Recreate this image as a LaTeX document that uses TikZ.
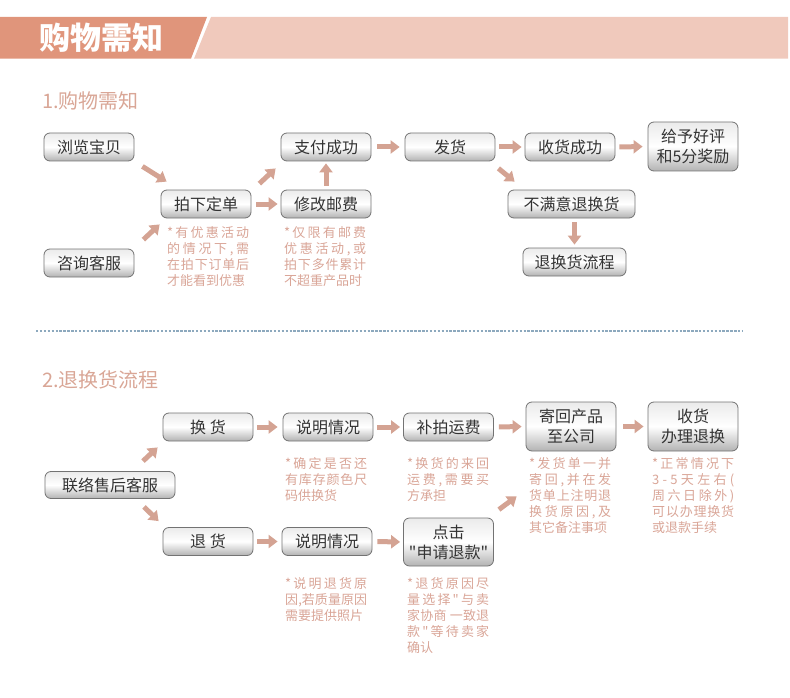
\documentclass[tikz,border=0pt]{standalone}
\usepackage{fontspec}
\setmainfont{Noto Sans CJK SC}
\newfontfamily\plainfont{Noto Sans CJK SC}
\usetikzlibrary{arrows.meta,calc}
\definecolor{hdark}{HTML}{E0957B}
\definecolor{hlight}{HTML}{F0C9BC}
\definecolor{arrowc}{HTML}{D4A393}
\definecolor{notec}{HTML}{D9A597}
\definecolor{titlec}{HTML}{D9A696}
\definecolor{dashc}{HTML}{8DA9BE}
\newcommand\sq{{\plainfont\symbol{34}}}
\newlength\notew
\setlength\notew{82pt}
\def\spreadchars#1#2\endspread{#1\ifx\relax#2\relax\else\hfil\spreadchars#2\endspread\fi}
\newcommand\sline[1]{\makebox[\notew][s]{\spreadchars#1\endspread}}
\tikzset{
  box/.style={draw=black!55, line width=0.8pt, rounded corners=6pt,
    top color=black!8, bottom color=black!30, middle color=white,
    minimum width=90pt, minimum height=28pt, inner sep=0pt,
    font=\fontsize{16}{20}\selectfont, text=black!80, align=center},
  tallbox/.style={box, minimum height=49pt},
  barrow/.style={line width=5pt, draw=arrowc, -{Triangle[length=9pt,width=13pt]}},
  note/.style={inner sep=0pt, text=notec, font=\fontsize{13}{16.2}\selectfont, anchor=base west},
  sectitle/.style={inner sep=0pt, text=titlec, font=\fontsize{20}{24}\selectfont, anchor=base west},
}
\begin{document}
\begin{tikzpicture}[x=1pt,y=-1pt]
\useasboundingbox (0,0) rectangle (790,698);
% header
\fill[hdark] (0,17) -- (207,17) -- (191,58.7) -- (0,58.7) -- cycle;
\fill[hlight] (211,17) -- (788,17) -- (788,58.7) -- (194,58.7) -- cycle;
\node[inner sep=0pt, anchor=base west, text=white, font=\fontsize{31}{34}\selectfont\bfseries] (head) at (39,50) {购物需知};
% section 1
\node[sectitle] (t1) at (42,109) {1.购物需知};
\node[box] (a1) at (89,147) {浏览宝贝};
\node[box] (a2) at (89,263) {咨询客服};
\node[box] (a3) at (206,204) {拍下定单};
\node[box] (a4) at (326,147) {支付成功};
\node[box] (a5) at (326,204) {修改邮费};
\node[box] (a6) at (450,147) {发货};
\node[box] (a7) at (570,147) {收货成功};
\node[tallbox] (a8) at (693,146.5) {给予好评\\和5分奖励};
\node[box, minimum width=127pt] (a9) at (571.5,204) {不满意退换货};
\node[box, minimum width=103pt] (a10) at (574.5,262) {退换货流程};
\node[note] (n1) at (167,237) {\vtop{\hbox{\sline{*有优惠活动}}\hbox{\sline{的情况下,需}}\hbox{\sline{在拍下订单后}}\hbox{才能看到优惠}}};
\node[note] (n2) at (284,237) {\vtop{\hbox{\sline{*仅限有邮费}}\hbox{\sline{优惠活动,或}}\hbox{\sline{拍下多件累计}}\hbox{不超重产品时}}};
\draw[barrow] ([shift={(8,5)}]a1.south east) -- ([shift={(6,-8)}]a3.north west);
\draw[barrow] ([shift={(9,-9)}]a2.north east) -- ([shift={(-1,6)}]a3.south west);
\draw[barrow] ([shift={(8,-6)}]a3.north east) -- ([shift={(-5,7)}]a4.south west);
\draw[barrow, shorten <=4pt, shorten >=2pt] (a5.north) -- (a4.south);
\draw[barrow, shorten <=5pt, shorten >=3pt] (a3.east) -- (a5.west);
\draw[barrow, shorten <=6pt, shorten >=5pt] (a4.east) -- (a6.west);
\draw[barrow, shorten <=4pt, shorten >=3pt] (a6.east) -- (a7.west);
\draw[barrow, shorten <=4pt, shorten >=5pt] (a7.east) -- (a8.west);
\draw[barrow] ([shift={(3,7)}]a6.south east) -- ([shift={(7,-8)}]a9.north west);
\draw[barrow, shorten <=4pt, shorten >=3pt] (a9.south -| a10.north) -- (a10.north);
% divider
\draw[dashc, line width=1.3pt, dash pattern=on 2.4pt off 1.5pt] (36,331) -- (743,331);
% section 2
\node[sectitle] (t2) at (42,387.5) {2.退换货流程};
\node[box, minimum width=130pt, minimum height=27pt] (b1) at (110,485) {联络售后客服};
\node[box] (b2) at (208,427) {换 货};
\node[box] (b3) at (208,541.5) {退 货};
\node[box] (b4) at (328,427) {说明情况};
\node[box] (b5) at (327,541.5) {说明情况};
\node[box] (b6) at (448.5,427) {补拍运费};
\node[box, minimum height=48pt] (b7) at (448.5,542) {点击\\\sq 申请退款\sq};
\node[tallbox] (b8) at (571,426.5) {寄回产品\\至公司};
\node[tallbox] (b9) at (693,426.5) {收货\\办理退换};
\node[note] (m1) at (285,468) {\vtop{\hbox{\sline{*确定是否还}}\hbox{\sline{有库存颜色尺}}\hbox{码供换货}}};
\node[note] (m2) at (407,468) {\vtop{\hbox{\sline{*换货的来回}}\hbox{\sline{运费,需要买}}\hbox{方承担}}};
\node[note] (m3) at (529,468) {\vtop{\hbox{\sline{*发货单一并}}\hbox{\sline{寄回,并在发}}\hbox{\sline{货单上注明退}}\hbox{\sline{换货原因,及}}\hbox{其它备注事项}}};
\node[note] (m4) at (652,468) {\vtop{\hbox{\sline{*正常情况下}}\hbox{\sline{3-5天左右(}}\hbox{\sline{周六日除外)}}\hbox{\sline{可以办理换货}}\hbox{或退款手续}}};
\node[note] (m5) at (285,588) {\vtop{\hbox{\sline{*说明退货原}}\hbox{\sline{因,若质量原因}}\hbox{需要提供照片}}};
\node[note] (m6) at (407,588) {\vtop{\hbox{\sline{*退货原因尽}}\hbox{\sline{量选择\sq 与卖}}\hbox{\sline{家协商~一致退}}\hbox{\sline{款\sq 等待卖家}}\hbox{确认}}};
\draw[barrow] ([shift={(33,-10)}]b1.north) -- ([shift={(-5,6)}]b2.south west);
\draw[barrow] ([shift={(34,8)}]b1.south) -- ([shift={(-4,-6)}]b3.north west);
\draw[barrow, shorten <=4pt, shorten >=5pt] (b2.east) -- (b4.west);
\draw[barrow, shorten <=4pt, shorten >=4pt] (b3.east) -- (b5.west);
\draw[barrow, shorten <=4pt, shorten >=3pt] (b4.east) -- (b6.west);
\draw[barrow, shorten <=5pt, shorten >=3pt] (b5.east) -- (b7.west);
\draw[barrow, shorten <=5pt, shorten >=4pt] (b6.east) -- (b8.west);
\draw[barrow] ([shift={(5,-8)}]b7.north east) -- ([shift={(-9,45)}]b8.south west);
\draw[barrow, shorten <=7pt, shorten >=4pt] (b8.east) -- (b9.west);
\end{tikzpicture}
\end{document}
